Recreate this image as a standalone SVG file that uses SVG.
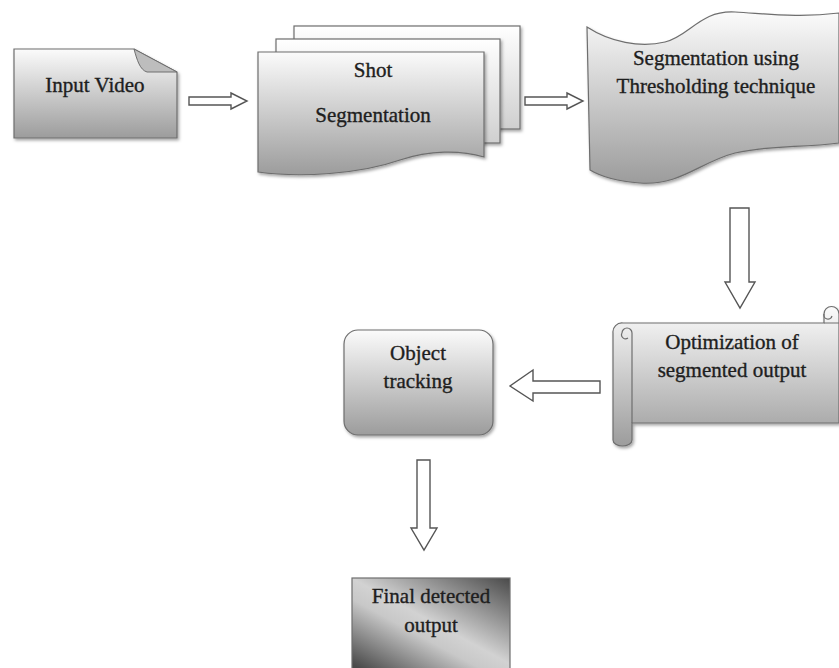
<svg xmlns="http://www.w3.org/2000/svg" width="839" height="668" viewBox="0 0 839 668">
<defs>
<linearGradient id="g" x1="0" y1="0" x2="0" y2="1">
<stop offset="0" stop-color="#fbfbfb"/>
<stop offset="1" stop-color="#9c9c9c"/>
</linearGradient>
<linearGradient id="gl" x1="0" y1="0" x2="0" y2="1">
<stop offset="0" stop-color="#ffffff"/>
<stop offset="1" stop-color="#cfcfcf"/>
</linearGradient>
<linearGradient id="gf" x1="1" y1="0" x2="0.1" y2="1">
<stop offset="0" stop-color="#4a4a4a"/>
<stop offset="0.5" stop-color="#d2d2d2"/>
<stop offset="0.62" stop-color="#c8c8c8"/>
<stop offset="1" stop-color="#4a4a4a"/>
</linearGradient>
<filter id="sh" x="-10%" y="-10%" width="130%" height="130%">
<feDropShadow dx="1.5" dy="2" stdDeviation="1.5" flood-color="#000" flood-opacity="0.35"/>
</filter>
<style>
.n{fill:url(#g);stroke:#6e6e6e;stroke-width:1.2;filter:url(#sh)}
.nl{fill:url(#gl);stroke:#6e6e6e;stroke-width:1.2;filter:url(#sh)}
.a{fill:#fff;stroke:#555;stroke-width:1.4;stroke-linejoin:miter}
text{font-family:"Liberation Serif","Times New Roman",serif;font-size:21px;fill:#1e1e1e;stroke:#1e1e1e;stroke-width:0.35;text-anchor:middle}
</style>
</defs>
<g id="input-video">
<path class="n" d="M14,49 H134 L177,72 V138 H14 Z"/>
<path d="M134,49 C137,60 140,70 147,72 L177,72 Z" fill="#bdbdbd" stroke="#6e6e6e" stroke-width="1"/>
<text x="95" y="92">Input Video</text>
</g>
<g id="shot-segmentation">
<rect class="nl" x="294" y="26" width="226" height="103"/>
<rect class="nl" x="276" y="39" width="224" height="104"/>
<path class="n" d="M258,52 H484 V157 C460,150 430,150 400,160 C360,174 300,178 258,172 Z"/>
<text x="373" y="77">Shot</text>
<text x="373" y="122">Segmentation</text>
</g>
<g id="thresholding">
<path class="n" d="M587,27 C610,42 640,48 665,42 C690,36 700,10 735,12 C770,14 800,18 839,13 V143 C800,148 770,145 735,153 C700,162 680,186 640,183 C615,181 600,176 590,170 Z"/>
<text x="716" y="65">Segmentation using</text>
<text x="716" y="93">Thresholding technique</text>
</g>
<g id="optimization">
<path class="n" d="M623,323 H824 V314 A7.5,7.5 0 0 1 839,314 V423 H632 V440 A9.5,6 0 0 1 613,440 V333 A9,9 0 0 1 623,323 Z"/>
<path d="M824,323 H839 M824,314 A4,4 0 0 0 832,316 M632,333 V423 M622,333 A5,5 0 0 1 632,333 M622,333 A4,4 0 0 0 628,338" fill="none" stroke="#6e6e6e" stroke-width="1.2"/>
<text x="732" y="349">Optimization of</text>
<text x="732" y="377">segmented output</text>
</g>
<g id="object-tracking">
<rect class="n" x="344" y="330" width="149" height="105" rx="14" ry="14"/>
<text x="418" y="360">Object</text>
<text x="418" y="388">tracking</text>
</g>
<g id="final-output">
<rect x="352" y="578" width="158" height="95" fill="url(#gf)" stroke="#6e6e6e" stroke-width="1.2"/>
<text x="431" y="603">Final detected</text>
<text x="431" y="632">output</text>
</g>
<g id="connectors">
<path class="a" d="M189,97 H231 V93 L247,101 L231,109 V105 H189 Z"/>
<path class="a" d="M525,97 H567 V93 L583,101 L567,109 V105 H525 Z"/>
<path class="a" d="M730,208 H749 V282 H755 L740,308 L725,282 H730 Z"/>
<path class="a" d="M600,381 H533 V370 L510,386 L533,401 V393 H600 Z"/>
<path class="a" d="M417,460 H430 V528 H437 L424,550 L411,528 H417 Z"/>
</g>
</svg>
